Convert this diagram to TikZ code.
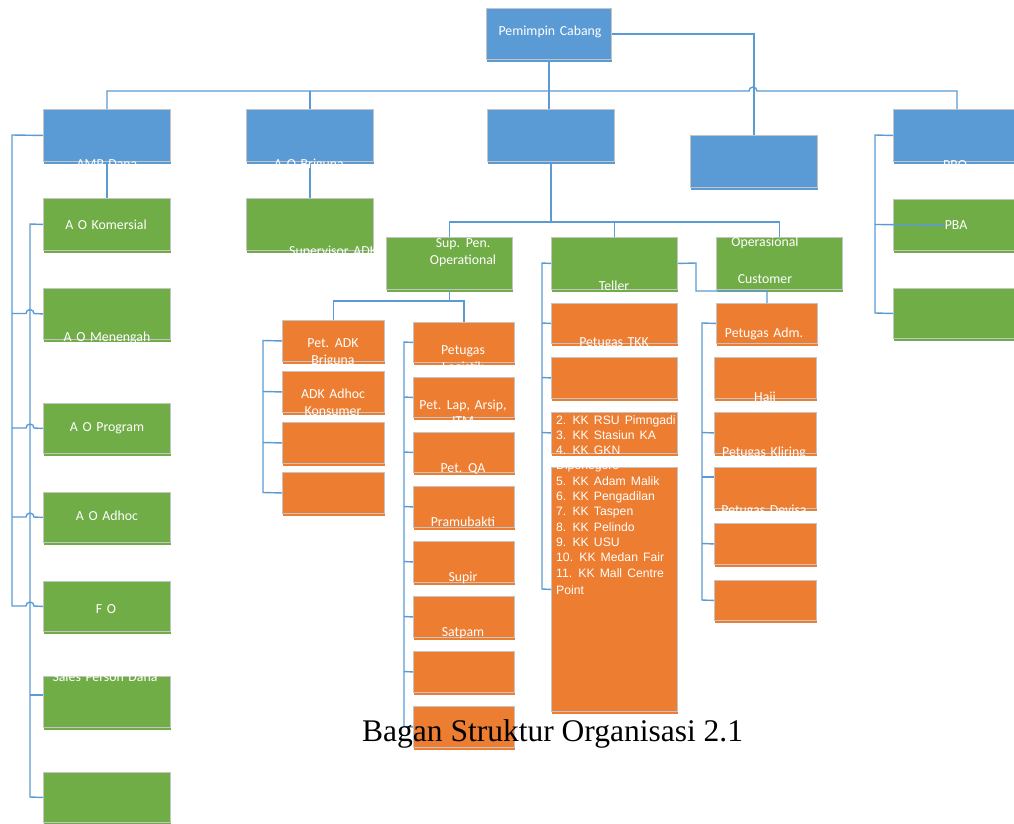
\documentclass[tikz,border=0pt]{standalone}
\usepackage{fontspec}
\setmainfont[WordSpace=1.5]{Carlito}
\newfontfamily\arialf[WordSpace=1.5]{Liberation Sans}
\newfontfamily\timesf{Liberation Serif}
\usetikzlibrary{shadows,calc}
\definecolor{cblue}{HTML}{5B9BD5}
\definecolor{cgreen}{HTML}{70AD47}
\definecolor{corange}{HTML}{ED7D31}
\definecolor{cborder}{HTML}{C4C4C4}
\tikzset{
  box/.style={draw=cborder, line width=0.9pt, inner sep=0pt, anchor=north west, rectangle},
  bluebox/.style={box, fill=cblue, drop shadow={shadow xshift=1pt, shadow yshift=-2.5pt, fill=cblue, opacity=1}},
  greenbox/.style={box, fill=cgreen, drop shadow={shadow xshift=1pt, shadow yshift=-2.5pt, fill=cgreen, opacity=1}},
  orangebox/.style={box, fill=corange, drop shadow={shadow xshift=1pt, shadow yshift=-2.5pt, fill=corange, opacity=1}},
  conn/.style={draw=cblue, line width=1.4pt},
  lbl/.style={text=white, font=\fontsize{13.8}{16}\selectfont, inner sep=0pt, anchor=base},
  lst/.style={text=white, font=\arialf\fontsize{12.2}{15}\selectfont, inner sep=0pt, anchor=base west},
}
\newcommand\mkbox[6]{\node[#6, minimum width=#4pt, minimum height=#5pt] (#1) at (#2pt,-#3pt) {};}
\begin{document}
\begin{tikzpicture}[x=1pt,y=1pt]
\clip (0,0) rectangle (1014,-823);
\fill[white] (0,0) rectangle (1014,-823);
% boxes
\mkbox{pc}{486}{8}{125}{51}{bluebox}
\mkbox{amp}{43}{109}{127}{52}{bluebox}
\mkbox{bri}{246}{109}{127}{52}{bluebox}
\mkbox{b3}{487}{109}{127}{52}{bluebox}
\mkbox{b4}{690}{135}{127}{52}{bluebox}
\mkbox{pbo}{893}{109}{127}{52}{bluebox}
\mkbox{kom}{43}{198}{127}{52}{greenbox}
\mkbox{sbk}{246}{198}{127}{52}{greenbox}
\mkbox{men}{43}{288}{127}{51}{greenbox}
\mkbox{prog}{43}{403}{127}{50}{greenbox}
\mkbox{adh}{43}{492}{127}{50}{greenbox}
\mkbox{fo}{43}{581}{127}{50}{greenbox}
\mkbox{sales}{43}{676}{127}{51}{greenbox}
\mkbox{lastg}{43}{772}{127}{50}{greenbox}
\mkbox{pba}{893}{199}{127}{51}{greenbox}
\mkbox{pbx}{893}{288}{127}{50}{greenbox}
\mkbox{sup}{386}{237}{126}{52}{greenbox}
\mkbox{tel}{551}{237}{126}{52}{greenbox}
\mkbox{cus}{716}{237}{126}{52}{greenbox}
\mkbox{s1}{282}{320}{102}{41}{orangebox}
\mkbox{s2}{282}{371}{102}{41}{orangebox}
\mkbox{s3}{282}{422}{102}{41}{orangebox}
\mkbox{s4}{282}{472}{102}{41}{orangebox}
\mkbox{r1}{413}{322}{101}{40}{orangebox}
\mkbox{r2}{413}{377}{101}{40}{orangebox}
\mkbox{r3}{413}{432}{101}{40}{orangebox}
\mkbox{r4}{413}{486}{101}{41}{orangebox}
\mkbox{r5}{413}{541}{101}{41}{orangebox}
\mkbox{r6}{413}{596}{101}{41}{orangebox}
\mkbox{r7}{413}{651}{101}{41}{orangebox}
\mkbox{r8}{413}{706}{101}{41}{orangebox}
\mkbox{tkk}{551}{303}{126}{40}{orangebox}
\mkbox{t2}{551}{357}{126}{41}{orangebox}
\mkbox{t3}{551}{412}{126}{41}{orangebox}
\mkbox{big}{551}{467}{126}{244}{orangebox}
\mkbox{adm}{716}{303}{101}{40}{orangebox}
\mkbox{c2}{714}{357}{102}{41}{orangebox}
\mkbox{c3}{714}{412}{102}{41}{orangebox}
\mkbox{c4}{714}{467}{102}{41}{orangebox}
\mkbox{c5}{714}{523}{102}{41}{orangebox}
\mkbox{c6}{714}{580}{102}{40}{orangebox}
% helper coordinates
\coordinate (hy) at (0,-91);
\coordinate (cy) at (0,-222);
\coordinate (sy) at (0,-301);
% top level connectors
\draw[conn] (pc.south) -- (pc.south |- b3.north);
\draw[conn] (amp.north) -- (amp.north |- hy) -- (749,-91) arc (180:0:4) -- (pbo.north |- hy) -- (pbo.north);
\draw[conn] (bri.north) -- (bri.north |- hy);
\draw[conn] (pc.east) -| (b4.north);
% left column
\draw[conn] (amp.west) -- (12,-135) -- (12,-606) -- (26,-606) arc (180:0:4) -- (fo.west);
\draw[conn] (12,-313.5) -- (26,-313.5) arc (180:0:4) -- (men.west);
\draw[conn] (12,-428) -- (26,-428) arc (180:0:4) -- (prog.west);
\draw[conn] (12,-517) -- (26,-517) arc (180:0:4) -- (adh.west);
\draw[conn] (kom.west) -- (30,-224) -- (30,-797) -- (lastg.west);
\draw[conn] (30,-695) -- (sales.west |- 0,-695);
\draw[conn] (bri.south) -- (sbk.north);
\draw[conn] (amp.south) -- (kom.north);
% PBO column
\draw[conn] (pbo.west) -- (875,-135) -- (875,-313) -- (pbx.west);
% center
\draw[conn] (b3.south) -- (b3.south |- cy);
\draw[conn] (sup.north) -- (sup.north |- cy) -- (cus.north |- cy) -- (cus.north);
\draw[conn] (tel.north) -- (tel.north |- cy);
% supervisor children
\draw[conn] (sup.south) -- (sup.south |- sy);
\draw[conn] (s1.north) -- (s1.north |- sy) -- (r1.north |- sy) -- (r1.north);
\draw[conn] (s1.west) -- (263,-340.5) -- (263,-492.5) -- (s4.west);
\draw[conn] (263,-391.5) -- (s2.west);
\draw[conn] (263,-442.5) -- (s3.west);
\draw[conn] (r1.west) -- (404,-342) -- (404,-726.5) -- (r8.west);
\foreach \n/\yy in {r2/397, r3/452, r4/506.5, r5/561.5, r6/616.5, r7/671.5}
  \draw[conn] (404,-\yy) -- (\n.west);
% teller
\draw[conn] (tel.west) -- (542,-263) -- (542,-589) -- (big.west);
\draw[conn] (542,-323) -- (tkk.west);
\draw[conn] (542,-377.5) -- (t2.west);
\draw[conn] (542,-432.5) -- (t3.west);
\draw[conn] (tel.east) -- (696,-263) -- (696,-291) -- (adm.north |- 0,-291) -- (adm.north);
% customer column
\draw[conn] (adm.west) -- (702,-323) -- (702,-600) -- (c6.west);
\draw[conn] (702,-432.5) -- (c3.west);
\draw[conn] (702,-477) -- (c4.west |- 0,-477);
\draw[conn] (702,-543.5) -- (c5.west);
% PBA line into the box
\draw[conn] (875,-224.5) -- ($(pba.west)+(52,0)$);
% labels
\node[lbl] (l-pc) at (550,-35) {Pemimpin Cabang};
\node[lbl] (l-amp) at (107,-168.5) {AMP Dana};
\node[lbl] (l-bri) at (309,-168.5) {A O Briguna};
\node[lbl] (l-kom) at (106,-229) {A O Komersial};
\node[lbl, anchor=base west] (l-sbk) at (289,-255) {Supervisor ADK};
\node[lbl] (l-men) at (107,-341.5) {A O Menengah};
\node[lbl] (l-prog) at (107,-431) {A O Program};
\node[lbl] (l-adh) at (107,-520) {A O Adhoc};
\node[lbl] (l-fo) at (106,-613.5) {F\,\,O};
\node[lbl] (l-sales) at (105,-681) {Sales Person Dana};
\node[lbl] (l-pbo) at (955,-169.5) {PBO};
\node[lbl] (l-pba) at (956,-229) {PBA};
\node[lbl] (l-sup1) at (463,-247.5) {Sup. Pen.};
\node[lbl] (l-sup2) at (463,-264) {Operational};
\node[lbl] (l-tel) at (614,-290.5) {Teller};
\node[lbl] (l-cus1) at (765,-246.5) {Operasional};
\node[lbl] (l-cus2) at (765,-283) {Customer};
\node[lbl] (l-s1a) at (333,-347) {Pet. ADK};
\node[lbl] (l-s1b) at (333,-364.5) {Briguna};
\node[lbl] (l-s2a) at (333,-398) {ADK Adhoc};
\node[lbl] (l-s2b) at (333,-415) {Konsumer};
\node[lbl] (l-r1a) at (463,-354) {Petugas};
\node[lbl] (l-r1b) at (463,-371.5) {Logistik};
\node[lbl] (l-r2a) at (463,-409) {Pet. Lap, Arsip,};
\node[lbl] (l-r2b) at (463,-425.5) {ITM};
\node[lbl] (l-r3) at (463,-472) {Pet. QA};
\node[lbl] (l-r4) at (463,-526.5) {Pramubakti};
\node[lbl] (l-r5) at (463,-581.7) {Supir};
\node[lbl] (l-r6) at (463,-636.7) {Satpam};
\node[lbl] (l-tkk) at (614,-346) {Petugas TKK};
\node[lbl] (l-adm) at (764,-337) {Petugas Adm.};
\node[lbl] (l-c2) at (765,-401.7) {Haji};
\node[lbl] (l-c3) at (764,-456.7) {Petugas Kliring};
\node[lbl] (l-c4) at (764,-514) {Petugas Devisa};
% teller list
\foreach \i/\yy/\t in {2/424/{2. KK RSU Pimngadi}, 3/439.3/{3. KK Stasiun KA}, 4/454.6/{4. KK GKN},
  4b/469.9/{Diponegoro}, 5/485.2/{5. KK Adam Malik}, 6/500.5/{6. KK Pengadilan}, 7/515.8/{7. KK Taspen},
  8/531.1/{8. KK Pelindo}, 9/546.4/{9. KK USU}, 10/561.7/{10. KK Medan Fair}, 11/577/{11. KK Mall Centre},
  11b/594/{Point}}
  \node[lst] (kk\i) at (556,-\yy) {\t};
% caption
\node[font=\timesf\fontsize{31.5}{36}\selectfont, anchor=base west, inner sep=0pt] (cap) at (362,-741) {Bagan Struktur Organisasi 2.1};
\end{tikzpicture}
\end{document}
